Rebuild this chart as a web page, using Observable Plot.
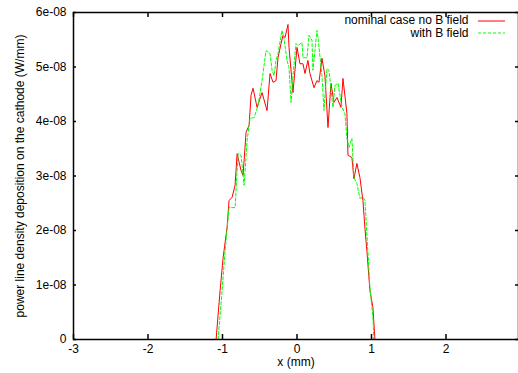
<!DOCTYPE html>
<html>
<head>
<meta charset="utf-8">
<script src="https://cdn.jsdelivr.net/npm/d3@7"></script>
<script src="https://cdn.jsdelivr.net/npm/@observablehq/plot@0.6"></script>
<style>
  html, body { margin: 0; padding: 0; background: white; overflow: hidden; }
  svg { display: block; }
</style>
</head>
<body>
<div id="chart"></div>
<script>
// x positions (mm) and power line density (W/mm)
const redX = [-1.086,-1.032,-0.992,-0.938,-0.912,-0.871,-0.831,-0.804,-0.751,-0.724,-0.684,-0.643,-0.617,-0.590,-0.536,-0.469,-0.402,-0.362,-0.322,-0.282,-0.255,-0.214,-0.188,-0.161,-0.121,-0.107,-0.054,0.000,0.040,0.080,0.107,0.147,0.174,0.228,0.268,0.295,0.335,0.375,0.416,0.456,0.496,0.536,0.590,0.617,0.670,0.684,0.737,0.764,0.804,0.845,0.885,0.912,0.938,0.979,1.019,1.046];
const redY = [0,0.90,1.50,2.06,2.55,2.61,2.83,3.41,3.10,3.01,3.80,3.93,4.48,4.61,4.26,4.53,4.20,4.88,4.72,4.75,5.17,5.43,5.58,5.54,5.78,5.36,4.53,5.36,5.06,5.06,4.88,5.12,4.88,4.62,4.75,4.72,5.16,4.84,3.89,4.70,4.35,4.44,4.26,4.79,4.15,3.38,3.34,2.95,3.23,2.97,2.55,2.04,1.63,0.90,0.59,0].map(v => v * 1e-8);

const greenX = [-1.059,-1.005,-0.965,-0.912,-0.831,-0.791,-0.751,-0.710,-0.670,-0.630,-0.576,-0.523,-0.469,-0.416,-0.362,-0.335,-0.308,-0.282,-0.255,-0.201,-0.174,-0.134,-0.107,-0.080,-0.054,-0.013,0.013,0.067,0.080,0.134,0.161,0.201,0.214,0.268,0.282,0.335,0.362,0.402,0.429,0.483,0.509,0.550,0.603,0.643,0.670,0.697,0.737,0.764,0.804,0.845,0.885,0.912,0.979,1.019,1.032];
const greenY = [0,0.90,1.63,2.42,2.42,3.41,3.38,2.83,3.65,4.06,4.07,4.29,4.75,5.30,5.25,4.94,4.84,5.12,5.25,5.67,5.52,5.12,4.99,4.35,4.84,5.43,5.39,5.45,5.17,5.17,5.58,5.49,4.94,5.67,5.54,4.84,4.20,4.97,4.94,4.26,4.66,4.70,4.26,4.15,3.69,3.52,3.69,2.97,2.86,2.59,2.61,2.55,0.95,0.40,0].map(v => v * 1e-8);

const xTicks = [-3, -2, -1, 0, 1, 2];
const yTicks = [0, 1e-8, 2e-8, 3e-8, 4e-8, 5e-8, 6e-8];
const seriesNames = ["nominal case no B field", "with B field"];
const xLabel = "x (mm)";
const yLabel = "power line density deposition on the cathode (W/mm)";

const red = redX.map((x, i) => ({x, y: redY[i]}));
const green = greenX.map((x, i) => ({x, y: greenY[i]}));

const W = 518, H = 373;
const mL = 73, mT = 12, mB = 34;
const xRange = [73, 520];
const frameH = H - mT - mB;
const frameW = xRange[1] - xRange[0];
const tk = 5;
const yFmt = d => d === 0 ? "0" : `${Math.round(d * 1e8)}e-08`;
const xFmt = d => String(d);

const chart = Plot.plot({
  width: W,
  height: H,
  marginLeft: mL,
  marginRight: 0,
  marginTop: mT,
  marginBottom: mB,
  style: {fontFamily: "'Liberation Sans', Arial, sans-serif", fontSize: "12px", background: "white", color: "black"},
  x: {domain: [-3, 3], range: xRange},
  y: {domain: [0, 6e-8]},
  marks: [
    Plot.line(red, {x: "x", y: "y", stroke: "#ff0000", strokeWidth: 1}),
    Plot.line(green, {x: "x", y: "y", stroke: "#00ff00", strokeWidth: 1, strokeDasharray: "3,2"}),
    // inward ticks on all four sides
    Plot.tickX(xTicks, {x: d => d, insetTop: frameH - tk, stroke: "black", strokeWidth: 1.5}),
    Plot.tickX(xTicks, {x: d => d, insetBottom: frameH - tk, stroke: "black", strokeWidth: 1.5}),
    Plot.tickY(yTicks, {y: d => d, insetRight: frameW - tk, stroke: "black", strokeWidth: 1.5}),
    Plot.tickY(yTicks, {y: d => d, insetLeft: frameW - tk, stroke: "black", strokeWidth: 1.5}),
    Plot.axisX({ticks: xTicks, tickSize: 0, tickPadding: 5, tickFormat: xFmt, label: null}),
    Plot.axisY({ticks: yTicks, tickSize: 0, tickPadding: 7, tickFormat: yFmt, label: null}),
    Plot.frame({stroke: "black", strokeWidth: 1.5}),
    Plot.text([xLabel], {frameAnchor: "bottom", text: d => d, lineAnchor: "middle", dy: 23}),
    Plot.text([yLabel], {frameAnchor: "left", text: d => d, rotate: -90, textAnchor: "middle", lineAnchor: "middle", dx: -53}),
    // legend
    Plot.text([seriesNames[0]], {frameAnchor: "top-right", text: d => d, textAnchor: "end", lineAnchor: "middle", dx: -50, dy: 8}),
    Plot.text([seriesNames[1]], {frameAnchor: "top-right", text: d => d, textAnchor: "end", lineAnchor: "middle", dx: -50, dy: 21}),
    Plot.ruleY([6e-8], {y: d => d, dy: 8.5, insetLeft: 478 - 73, insetRight: 520 - 507, stroke: "#ff0000", strokeWidth: 1}),
    Plot.ruleY([6e-8], {y: d => d, dy: 20.5, insetLeft: 478 - 73, insetRight: 520 - 507, stroke: "#00ff00", strokeWidth: 1, strokeDasharray: "3,2"})
  ]
});
document.getElementById("chart").appendChild(chart);
</script>
</body>
</html>
